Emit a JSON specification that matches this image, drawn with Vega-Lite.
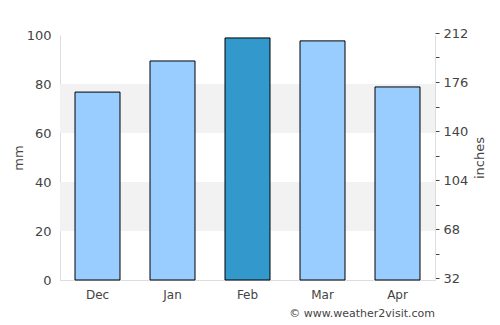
{
  "$schema": "https://vega.github.io/schema/vega-lite/v6.json",
  "autosize": {"type": "none"},
  "width": 375,
  "height": 245,
  "padding": {"left": 60, "top": 35, "right": 65, "bottom": 45},
  "background": "white",
  "config": {
    "view": {"stroke": null},
    "font": "DejaVu Sans",
    "axis": {"labelFont": "DejaVu Sans", "titleFont": "DejaVu Sans", "labelColor": "#444444", "titleColor": "#444444", "titleFontWeight": "normal"}
  },
  "title": {"text": "© www.weather2visit.com", "orient": "bottom", "anchor": "end", "frame": "group", "fontSize": 11, "fontWeight": "normal", "color": "#444444", "font": "DejaVu Sans", "offset": 8},
  "datasets": {
    "rain": [
      {"month": "Dec", "mm": 76.7, "highlight": "no"},
      {"month": "Jan", "mm": 89.4, "highlight": "no"},
      {"month": "Feb", "mm": 98.8, "highlight": "yes"},
      {"month": "Mar", "mm": 97.6, "highlight": "no"},
      {"month": "Apr", "mm": 78.8, "highlight": "no"}
    ],
    "bands": [
      {"lo": 20, "hi": 40},
      {"lo": 60, "hi": 80}
    ]
  },
  "layer": [
    {
      "data": {"name": "bands"},
      "mark": {"type": "rect", "color": "#f2f2f2"},
      "encoding": {
        "y": {"field": "lo", "type": "quantitative", "scale": {"domain": [0, 100]}, "axis": null},
        "y2": {"field": "hi"}
      }
    },
    {
      "data": {"name": "rain"},
      "mark": {"type": "bar", "stroke": "black", "strokeWidth": 1},
      "encoding": {
        "x": {
          "field": "month", "type": "nominal", "sort": null,
          "scale": {"paddingInner": 0.4, "paddingOuter": 0.2},
          "axis": {"title": null, "labelAngle": 0, "labelFontSize": 12, "ticks": false, "labelPadding": 9, "domainColor": "#dddddd", "labelColor": "#444444"}
        },
        "y": {
          "field": "mm", "type": "quantitative",
          "scale": {"domain": [0, 100], "nice": false},
          "axis": {"title": "mm", "titleFontSize": 13, "labelFontSize": 13, "values": [0, 20, 40, 60, 80, 100], "ticks": false, "labelPadding": 9, "gridColor": "#dddddd", "domainColor": "#dddddd", "titlePadding": 1}
        },
        "color": {
          "field": "highlight", "type": "nominal",
          "scale": {"domain": ["no", "yes"], "range": ["#99ccff", "#3399cc"]},
          "legend": null
        }
      }
    },
    {
      "data": {"name": "rain"},
      "mark": {"type": "point", "opacity": 0},
      "encoding": {
        "y": {
          "field": "mm", "type": "quantitative",
          "scale": {"domain": [32, 212], "nice": false},
          "axis": {
            "orient": "right", "title": "inches", "titleFontSize": 13, "labelFontSize": 13, "titleAngle": -90, "titleBaseline": "top",
            "values": [32, 50, 68, 86, 104, 122, 140, 158, 176, 194, 212],
            "labelExpr": "(datum.value - 32) % 36 == 0 ? datum.label : ''",
            "grid": false, "tickSize": 4, "tickColor": "#444444", "tickOffset": -2, "labelPadding": 4,
            "domainColor": "#dddddd", "titlePadding": 6
          }
        }
      }
    }
  ],
  "resolve": {"scale": {"y": "independent"}}
}
